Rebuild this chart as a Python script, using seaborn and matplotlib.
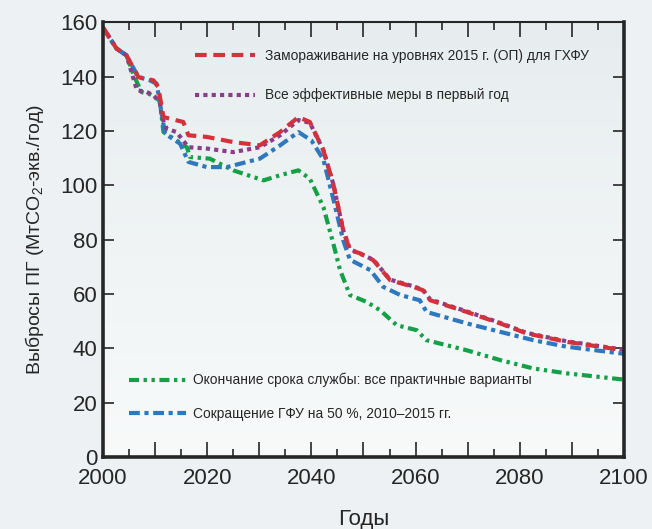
import numpy as np
import pandas as pd
import matplotlib
matplotlib.use("Agg")
import matplotlib.pyplot as plt
from matplotlib import font_manager
from matplotlib.colors import LinearSegmentedColormap
from matplotlib.ticker import MultipleLocator, FuncFormatter
import seaborn as sns

# values
red_years = [2000, 2002.6, 2004.5, 2006.8, 2009.7, 2010.6, 2011.6, 2015.4, 2016.4, 2019.9,
             2025, 2030.1, 2034, 2037.5, 2039.7, 2042.3, 2044.2, 2046.1, 2047.4, 2049.3,
             2051.9, 2055.1, 2059.6, 2061.4, 2062.8, 2069.8, 2076.2, 2081.3, 2089, 2100]
red_vals = [158, 150.3, 147.8, 139.8, 138.6, 136.1, 125.1, 123.3, 118.4, 117.8,
            115.9, 114.7, 119.6, 125.1, 123.3, 112.9, 100.5, 83.5, 76.1, 75,
            72.4, 65.1, 62.6, 61.4, 57.7, 53.4, 49.2, 45.5, 42.4, 39.3]

purple_years = [2000, 2002.6, 2004.5, 2006.5, 2008.4, 2009.7, 2010.9, 2011.3, 2012.2, 2014.1,
                2016.4, 2020, 2025, 2030.1, 2034, 2037.5, 2039.7, 2042.3, 2044.2, 2046.1,
                2047.4, 2051.9, 2055.1, 2059.6, 2061.4, 2062.8, 2069.8, 2076.2, 2081.3, 2089, 2100]
purple_vals = [158, 150.3, 147.8, 135, 134.3, 133.1, 130.6, 125.1, 120.8, 119.6,
               114, 113.5, 112.2, 114, 118.4, 124, 123, 112.9, 100.5, 83.5,
               76.5, 72.6, 65.3, 62.8, 61.6, 58, 53.6, 49.4, 45.7, 42.6, 39.5]

blue_years = [2000, 2002.6, 2004.5, 2006.8, 2009, 2010.3, 2011.9, 2014.8, 2016.4, 2019.9,
              2023.8, 2030.1, 2034, 2037.5, 2040, 2042.3, 2044.2, 2046.1, 2047.4, 2051.3,
              2053.8, 2057.1, 2060.8, 2062.1, 2069.8, 2076.2, 2082.6, 2089, 2100]
blue_vals = [158, 150.3, 147.8, 139.8, 138.6, 137.4, 119, 115.3, 108.6, 106.7,
             106.7, 109.8, 114.7, 119.6, 116.5, 109.5, 95, 79.8, 72.6, 68.8,
             62.6, 59.6, 57.7, 53.4, 49.2, 46.1, 43, 40.6, 38]

green_years = [2000, 2002.6, 2004.5, 2006, 2007.4, 2009, 2010.9, 2011.6, 2014.1, 2016.1,
               2016.7, 2020.5, 2025, 2030.8, 2034, 2037.5, 2039.7, 2042.3, 2044.2, 2045.5,
               2047.4, 2050.6, 2053.2, 2056.4, 2060.2, 2062.1, 2069.8, 2076.2, 2082.6, 2089, 2100]
green_vals = [158, 150.3, 147.8, 140, 134.3, 133.5, 131.2, 119.6, 116.5, 114,
              110.4, 109.8, 105.5, 101.8, 103.7, 105.5, 102.4, 92, 78.6, 68.8,
              59.6, 57.1, 54, 48.5, 46.7, 43, 39.3, 35.7, 32.6, 30.8, 28.5]

labels = ["Замораживание на уровнях 2015 г. (ОП) для ГХФУ",
          "Все эффективные меры в первый год",
          "Окончание срока службы: все практичные варианты",
          "Сокращение ГФУ на 50 %, 2010–2015 гг."]

sns.set_style("ticks")
installed = {f.name for f in font_manager.fontManager.ttflist}
narrow = "Liberation Sans Narrow" if "Liberation Sans Narrow" in installed else "Liberation Sans"
plt.rcParams["font.family"] = ["Liberation Sans", "DejaVu Sans"]
plt.rcParams["mathtext.fontset"] = "custom"
plt.rcParams["mathtext.rm"] = narrow
plt.rcParams["mathtext.it"] = narrow

bg = "#edf1f3"
fig = plt.figure(figsize=(6.52, 5.29), dpi=100, facecolor=bg)
ax = fig.add_axes([0.158, 0.136, 0.799, 0.822])

grad = LinearSegmentedColormap.from_list("g", ["#e7edef", "#f8fafa"])
ax.imshow(np.linspace(0, 1, 256).reshape(-1, 1), extent=[0, 1, 0, 1], transform=ax.transAxes,
          aspect="auto", cmap=grad, zorder=0)

styles = [
    ("green", green_years, green_vals, "#14a046", (2.4, 1.1, 0.8, 1.1, 0.8, 1.1)),
    ("blue", blue_years, blue_vals, "#2e78bd", (2.6, 1.1, 1.0, 1.1)),
    ("purple", purple_years, purple_vals, "#8a3d88", (1, 1)),
    ("red", red_years, red_vals, "#d3313c", (2.8, 1.6)),
]
lines = {}
for name, xs, ys, col, dash in styles:
    df = pd.DataFrame({"year": xs, "val": ys})
    sns.lineplot(data=df, x="year", y="val", ax=ax, color=col, lw=3.0, zorder=3)
    ln = ax.lines[-1]
    ln.set_dashes(dash)
    ln.set_dash_capstyle("butt")
    ln.set_solid_joinstyle("round")
    lines[name] = ln

ax.set_xlim(2000, 2100)
ax.set_ylim(0, 160)
ax.set_xlabel("Годы", fontsize=16, family=narrow, labelpad=14)
ax.set_ylabel("Выбросы ПГ (МтCO$_2$-экв./год)", fontsize=14, family=narrow, labelpad=10)

ax.xaxis.set_major_locator(MultipleLocator(10))
ax.xaxis.set_minor_locator(MultipleLocator(5))
ax.xaxis.set_major_formatter(FuncFormatter(lambda v, p: f"{int(v)}" if int(v) % 20 == 0 else ""))
ax.yaxis.set_major_locator(MultipleLocator(20))
ax.tick_params(axis="x", which="major", direction="in", length=11, width=1.2, top=True,
               labelsize=16, pad=8)
ax.tick_params(axis="x", which="minor", direction="in", length=6, width=1.2, top=True)
ax.tick_params(axis="y", direction="in", length=8, width=1.2, right=True, labelsize=16, pad=4)

for side in ["left", "right", "bottom"]:
    ax.spines[side].set_linewidth(2.6)
ax.spines["top"].set_linewidth(1.5)
for sp in ax.spines.values():
    sp.set_visible(True)
    sp.set_zorder(5)

leg1 = ax.legend([lines["red"], lines["purple"]], labels[:2], loc="upper left",
                 bbox_to_anchor=(0.152, 0.967), frameon=False, handlelength=4.4,
                 handletextpad=0.75, labelspacing=1.85, prop={"family": narrow, "size": 9.9})
ax.add_artist(leg1)
ax.legend([lines["green"], lines["blue"]], labels[2:], loc="upper left",
          bbox_to_anchor=(0.027, 0.222), frameon=False, handlelength=4.1,
          handletextpad=0.5, labelspacing=1.45, prop={"family": narrow, "size": 9.9})

fig.savefig("out.png", dpi=100, facecolor=bg)
